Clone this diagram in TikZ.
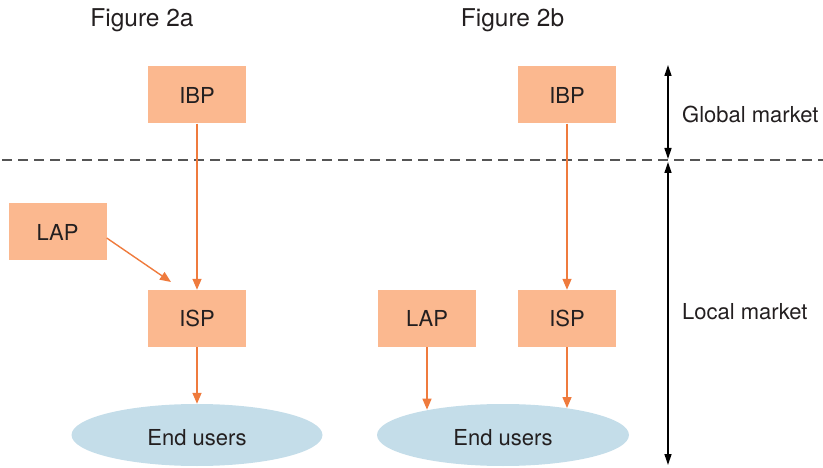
\documentclass[tikz,border=0pt]{standalone}
\usepackage{fontspec}
\setmainfont{TeX Gyre Heros}
\usetikzlibrary{shapes.geometric,arrows.meta}
\definecolor{boxfill}{HTML}{FBB88F}
\definecolor{arrorange}{HTML}{EF7B3D}
\definecolor{ellfill}{HTML}{C4DDE9}
\definecolor{txtdark}{HTML}{231F20}
\definecolor{dashgray}{HTML}{555555}
\tikzset{
  agent/.style={rectangle, fill=boxfill, minimum width=98pt, minimum height=57pt, inner sep=0pt, text=txtdark, font=\fontsize{22pt}{24pt}\selectfont},
  users/.style={ellipse, fill=ellfill, minimum width=251pt, minimum height=62pt, inner sep=0pt, text=txtdark, text height=21pt, text depth=0pt, font=\fontsize{22pt}{24pt}\selectfont},
  flow/.style={draw=arrorange, line width=1.4pt, -{Triangle[length=11pt,width=9pt]}},
  mktscale/.style={draw=black, line width=1.3pt, {Triangle[length=11pt,width=7pt]}-{Triangle[length=11pt,width=7pt]}},
  lbl/.style={text=txtdark, font=\fontsize{22pt}{24pt}\selectfont, inner sep=0pt},
  figlbl/.style={text=txtdark, font=\fontsize{24.5pt}{27pt}\selectfont, inner sep=0pt},
  boundary/.style={draw=dashgray, line width=1.2pt, dash pattern=on 10pt off 6pt}
}
\begin{document}
\begin{tikzpicture}[x=1pt,y=-1pt]
\useasboundingbox (0,0) rectangle (823,468);
% titles
\node[figlbl] (figa) at (142,20) {Figure 2a};
\node[figlbl] (figb) at (512.5,20) {Figure 2b};
% dashed boundary
\coordinate (dl) at (2,160);
\coordinate (dr) at (823,160);
\draw[boundary] (dl) -- (dr);
% Figure 2a
\node[agent] (ibpa) at (197,95) {IBP};
\node[agent] (lapa) at (57.5,232) {LAP};
\node[agent] (ispa) at (197,318.5) {ISP};
\node[users] (eua) at (197,435) {End users};
\coordinate (lapatip) at (171,282);
\draw[flow] (ibpa.south) -- (ispa.north);
\draw[flow] ([yshift=-6pt]lapa.east) -- (lapatip);
\draw[flow] (ispa.south) -- (eua.north);
% Figure 2b
\node[agent] (ibpb) at (567,95) {IBP};
\node[agent] (lapb) at (427,318.5) {LAP};
\node[agent] (ispb) at (567,318.5) {ISP};
\node[users, minimum width=252pt] (eub) at (503,435) {End users};
\draw[flow] (ibpb.south) -- (ispb.north);
\draw[flow] (lapb.south) -- (lapb.south |- eub.161.5);
\draw[flow] (ispb.south) -- (ispb.south |- eub.23.3);
% market scale
\coordinate (gtop) at (668,65);
\coordinate (gbot) at (668,159);
\coordinate (ltop) at (668,162);
\coordinate (lbot) at (668,465);
\draw[mktscale] (gtop) -- (gbot);
\draw[mktscale] (ltop) -- (lbot);
\node[lbl, anchor=west] (glob) at (682,114) {Global market};
\node[lbl, anchor=west] (loc) at (682,312) {Local market};
\end{tikzpicture}
\end{document}
